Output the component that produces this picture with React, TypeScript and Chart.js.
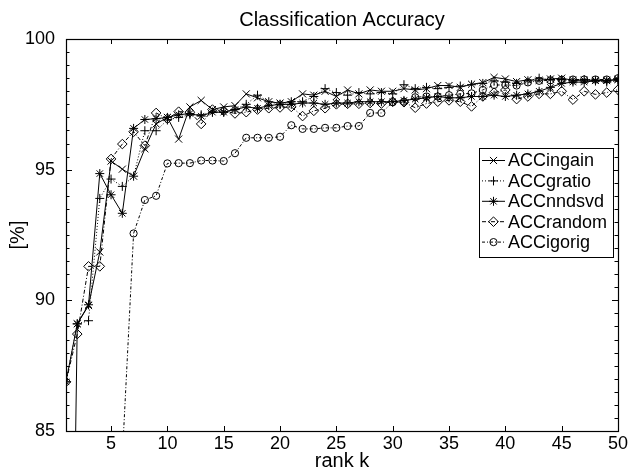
import React, { useEffect, useRef } from 'react';
import { Chart, registerables } from 'chart.js';

Chart.register(...registerables);

// ---------- data ----------
const rankK = [
  1, 2, 3, 4, 5, 6, 7, 8, 9, 10, 11, 12, 13, 14, 15, 16, 17, 18, 19, 20, 21, 22, 23, 24, 25,
  26, 27, 28, 29, 30, 31, 32, 33, 34, 35, 36, 37, 38, 39, 40, 41, 42, 43, 44, 45, 46, 47, 48, 49, 50,
];

const accIngain = [
  60, 89.1, 89.8, 91.85, 95.33, 95.02, 94.75, 95.8, 96.75, 97.0,
  96.17, 97.4, 97.65, 97.3, 97.4, 97.45, 97.9, 97.75, 97.6, 97.55,
  97.6, 97.9, 97.85, 98.0, 97.8, 98.05, 97.9, 98.05, 98.0, 98.0,
  98.1, 98.05, 98.1, 98.22, 98.22, 98.15, 98.27, 98.33, 98.53, 98.47,
  98.37, 98.44, 98.42, 98.47, 98.5, 98.42, 98.42, 98.42, 98.42, 98.45,
];

const accGratio = [
  86.88, 89.1, 89.22, 93.9, 94.64, 94.36, 94.75, 96.49, 96.49, 96.9,
  97.0, 97.1, 97.1, 97.2, 97.2, 97.3, 97.5, 97.85, 97.6, 97.5,
  97.6, 97.6, 97.8, 98.1, 97.95, 97.85, 97.95, 97.9, 97.95, 97.9,
  98.25, 98.1, 98.15, 98.1, 98.15, 98.2, 98.25, 98.3, 98.4, 98.35,
  98.3, 98.4, 98.5, 98.45, 98.45, 98.4, 98.45, 98.4, 98.35, 98.4,
];

const accNndsvd = [
  86.88, 89.1, 89.83, 94.85, 94.04, 93.33, 96.58, 96.92, 96.95, 97.0,
  97.1, 97.15, 97.05, 97.2, 97.2, 97.3, 97.4, 97.35, 97.45, 97.5,
  97.5, 97.55, 97.55, 97.5, 97.55, 97.55, 97.6, 97.6, 97.6, 97.6,
  97.65, 97.7, 97.75, 97.8, 97.75, 97.75, 97.8, 97.8, 97.85, 97.8,
  97.85, 97.9, 98.0, 98.15, 98.3, 98.35, 98.35, 98.4, 98.4, 98.45,
];

const accRandom = [
  86.88, 88.71, 91.3, 91.3, 95.41, 95.98, 96.45, 95.92, 97.17, 96.95,
  97.22, 97.2, 96.75, 97.3, 97.25, 97.15, 97.2, 97.3, 97.35, 97.38,
  97.4, 97.05, 97.25, 97.35, 97.5, 97.52, 97.52, 97.55, 97.53, 97.6,
  97.58, 97.37, 97.53, 97.6, 97.65, 97.6, 97.42, 97.8, 97.95, 98.05,
  97.7, 97.8, 97.9, 97.9, 98.0, 97.68, 98.0, 97.88, 97.95, 98.06,
];

const accIgorig = [
  null, null, null, null, null, 84.0, 92.56, 93.84, 94.0, 95.24,
  95.25, 95.25, 95.35, 95.35, 95.33, 95.63, 96.22, 96.22, 96.22, 96.26,
  96.7, 96.56, 96.56, 96.6, 96.6, 96.67, 96.67, 97.17, 97.17, 97.58,
  97.6, 97.77, 97.8, 97.8, 97.85, 97.9, 97.92, 98.05, 98.24, 98.24,
  98.22, 98.34, 98.4, 98.42, 98.44, 98.45, 98.45, 98.45, 98.45, 98.5,
];

const seriesNames = ['ACCingain', 'ACCgratio', 'ACCnndsvd', 'ACCrandom', 'ACCigorig'];

const xTicks = [5, 10, 15, 20, 25, 30, 35, 40, 45, 50];
const yTicks = [85, 90, 95, 100];

const titleText = 'Classification Accuracy';
const xTitle = 'rank k';
const yTitle = '[%]';

// ---------- styles ----------
const FONT = '"Liberation Sans", Arial, Helvetica, sans-serif';
const styles = [
  { point: 'crossRot', radius: 5, dash: [] as number[] },
  { point: 'cross', radius: 4.5, dash: [1, 2] },
  { point: 'star', radius: 4.5, dash: [] as number[] },
  { point: 'rectRot', radius: 4.8, dash: [4, 2, 1, 2] },
  { point: 'circle', radius: 3.6, dash: [3, 2, 1, 2] },
];
const seriesValues = [accIngain, accGratio, accNndsvd, accRandom, accIgorig];

function drawMarker(ctx: CanvasRenderingContext2D, style: string, x: number, y: number, r: number) {
  ctx.beginPath();
  const d = r * Math.SQRT1_2;
  if (style === 'crossRot' || style === 'star') {
    ctx.moveTo(x - d, y - d); ctx.lineTo(x + d, y + d);
    ctx.moveTo(x - d, y + d); ctx.lineTo(x + d, y - d);
  }
  if (style === 'cross' || style === 'star') {
    ctx.moveTo(x - r, y); ctx.lineTo(x + r, y);
    ctx.moveTo(x, y - r); ctx.lineTo(x, y + r);
  }
  if (style === 'rectRot') {
    ctx.moveTo(x - r, y); ctx.lineTo(x, y - r); ctx.lineTo(x + r, y); ctx.lineTo(x, y + r); ctx.closePath();
  }
  if (style === 'circle') {
    ctx.arc(x, y, r, 0, Math.PI * 2);
  }
  ctx.stroke();
}

const decorPlugin = {
  id: 'decor',
  afterDatasetsDraw(chart: any) {
    const { ctx, chartArea } = chart;
    const { left, right, top, bottom } = chartArea;
    const xs = chart.scales.x;
    const ys = chart.scales.y;
    ctx.save();
    ctx.strokeStyle = '#000';
    ctx.lineWidth = 1;
    ctx.setLineDash([]);
    ctx.beginPath();
    xTicks.forEach((v) => {
      const px = Math.round(xs.getPixelForValue(v)) + 0.5;
      ctx.moveTo(px, bottom); ctx.lineTo(px, bottom - 5);
      ctx.moveTo(px, top); ctx.lineTo(px, top + 5);
    });
    const yMin = yTicks[0];
    const yMax = yTicks[yTicks.length - 1];
    for (let i = 0; yMin + i * 0.5 <= yMax + 1e-9; i++) {
      const v = yMin + i * 0.5;
      const py = Math.round(ys.getPixelForValue(v)) + 0.5;
      const len = yTicks.includes(v) ? 6 : 3.5;
      ctx.moveTo(left, py); ctx.lineTo(left + len, py);
      ctx.moveTo(right, py); ctx.lineTo(right - len, py);
    }
    ctx.stroke();
    ctx.lineWidth = 1.2;
    ctx.strokeRect(Math.round(left) + 0.5, Math.round(top) + 0.5, Math.round(right - left), Math.round(bottom - top));

    // titles
    ctx.fillStyle = '#000';
    ctx.textAlign = 'center';
    ctx.textBaseline = 'alphabetic';
    ctx.font = `20px ${FONT}`;
    const cx = (left + right) / 2;
    ctx.fillText(titleText, cx, 26);
    ctx.fillText(xTitle, cx, 467);
    ctx.save();
    ctx.translate(18, (top + bottom) / 2);
    ctx.rotate(-Math.PI / 2);
    ctx.textBaseline = 'middle';
    ctx.fillText(yTitle, 0, 0);
    ctx.restore();

    // legend
    const bx = 479.5, by = 148.5, bw = 134, bh = 109;
    ctx.fillStyle = '#fff';
    ctx.fillRect(bx, by, bw, bh);
    ctx.lineWidth = 1;
    ctx.strokeRect(bx, by, bw, bh);
    ctx.font = `18px ${FONT}`;
    ctx.textAlign = 'left';
    ctx.textBaseline = 'middle';
    seriesNames.forEach((name, i) => {
      const yy = 160.5 + i * 20.4;
      const st = styles[i];
      ctx.strokeStyle = '#000';
      ctx.lineWidth = 1;
      ctx.setLineDash(st.dash);
      ctx.beginPath();
      ctx.moveTo(482, yy); ctx.lineTo(505, yy);
      ctx.stroke();
      ctx.setLineDash([]);
      drawMarker(ctx, st.point, 493.5, yy, st.radius);
      ctx.fillStyle = '#000';
      ctx.fillText(name, 508, yy + 1);
    });
    ctx.restore();
  },
};

export default function App() {
  const ref = useRef<HTMLCanvasElement>(null);
  useEffect(() => {
    const canvas = ref.current;
    if (!canvas) return;
    const datasets = seriesNames.map((name, i) => ({
      label: name,
      data: rankK.map((k, j) => ({ x: k, y: seriesValues[i][j] })),
      borderColor: '#000',
      backgroundColor: 'rgba(0,0,0,0)',
      borderWidth: 1,
      borderDash: styles[i].dash,
      pointStyle: styles[i].point,
      pointRadius: styles[i].radius,
      pointBorderColor: '#000',
      pointBackgroundColor: 'rgba(0,0,0,0)',
      pointBorderWidth: 1,
      tension: 0,
      spanGaps: false,
      fill: false,
    }));
    const chart = new Chart(canvas, {
      type: 'line',
      data: { datasets },
      plugins: [decorPlugin],
      options: {
        responsive: false,
        animation: false,
        devicePixelRatio: 1,
        layout: { padding: { left: 0, right: 13, top: 39, bottom: 0 } },
        plugins: { legend: { display: false }, title: { display: false }, tooltip: { enabled: false } },
        scales: {
          x: {
            type: 'linear',
            min: 1,
            max: 50,
            grid: { display: false },
            border: { display: false },
            afterBuildTicks: (s: any) => { s.ticks = xTicks.map((v) => ({ value: v })); },
            afterFit: (s: any) => { s.height = 38; },
            ticks: { color: '#000', font: { family: FONT, size: 18 }, padding: -6, maxRotation: 0, autoSkip: false },
          },
          y: {
            type: 'linear',
            min: 85,
            max: 100,
            grid: { display: false },
            border: { display: false },
            afterBuildTicks: (s: any) => { s.ticks = yTicks.map((v) => ({ value: v })); },
            afterFit: (s: any) => { s.width = 66; },
            ticks: { color: '#000', font: { family: FONT, size: 18 }, padding: 3 },
          },
        },
      } as any,
    });
    return () => chart.destroy();
  }, []);
  return (
    <div style={{ position: 'absolute', left: 0, top: 0, width: 631, height: 469, background: '#fff' }}>
      <canvas ref={ref} width={631} height={469} style={{ display: 'block', width: 631, height: 469 }} />
    </div>
  );
}
